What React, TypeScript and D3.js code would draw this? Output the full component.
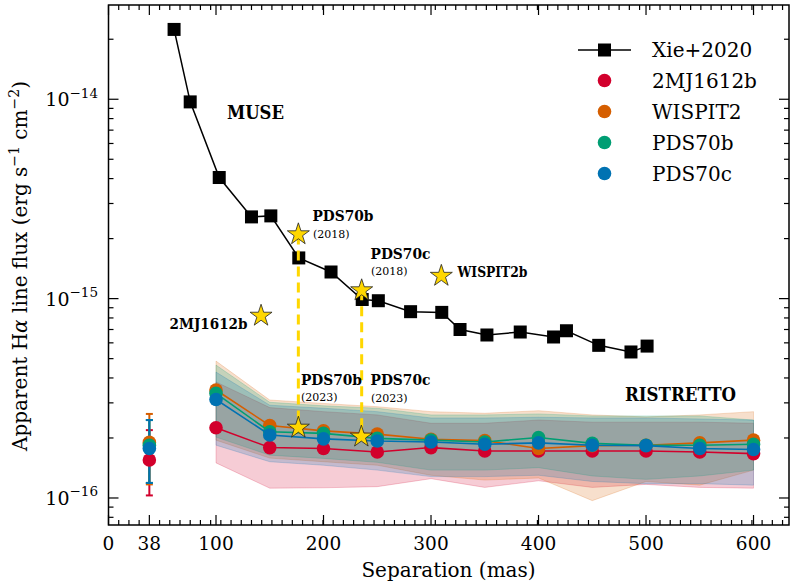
import * as d3 from 'd3';

// Xie+2020 MUSE contrast curve (separation in mas, flux in erg/s/cm^2)
const xieSep = [61, 76, 103, 133, 151, 177, 207, 236, 251, 281, 310, 327, 352, 383, 414, 426, 456, 486, 501];
const xieFlux = [2.24e-14, 9.7e-15, 4.05e-15, 2.57e-15, 2.6e-15, 1.6e-15, 1.36e-15, 9.9e-16, 9.76e-16, 8.6e-16,
  8.53e-16, 7.0e-16, 6.57e-16, 6.8e-16, 6.42e-16, 6.9e-16, 5.83e-16, 5.4e-16, 5.78e-16];

// RISTRETTO predictions
const ristSep = [38, 100, 150, 200, 250, 300, 350, 400, 450, 500, 550, 600];
const seriesNames = ['2MJ1612b', 'WISPIT2', 'PDS70b', 'PDS70c'];
const seriesColors = ['#d2002c', '#d55e00', '#009e73', '#0072b2'];
const flux2MJ = [1.55e-16, 2.25e-16, 1.79e-16, 1.77e-16, 1.7e-16, 1.79e-16, 1.72e-16, 1.72e-16, 1.72e-16, 1.72e-16, 1.7e-16, 1.67e-16];
const fluxWISPIT2 = [1.9e-16, 3.48e-16, 2.31e-16, 2.17e-16, 2.09e-16, 1.97e-16, 1.94e-16, 1.77e-16, 1.83e-16, 1.84e-16, 1.89e-16, 1.95e-16];
const fluxPDS70b = [1.84e-16, 3.35e-16, 2.15e-16, 2.11e-16, 1.99e-16, 1.95e-16, 1.91e-16, 2.01e-16, 1.88e-16, 1.84e-16, 1.84e-16, 1.86e-16];
const fluxPDS70c = [1.77e-16, 3.12e-16, 2.07e-16, 1.98e-16, 1.93e-16, 1.91e-16, 1.86e-16, 1.89e-16, 1.84e-16, 1.83e-16, 1.77e-16, 1.75e-16];
const seriesFlux = [flux2MJ, fluxWISPIT2, fluxPDS70b, fluxPDS70c];

// error bars at 38 mas
const errLo = [1.03e-16, 1.17e-16, 1.19e-16, 1.19e-16];
const errHi = [2.19e-16, 2.64e-16, 2.46e-16, 2.46e-16];

// uncertainty bands, 100..600 mas
const bandSep = [100, 150, 200, 250, 300, 350, 400, 450, 500, 550, 600];
const upper2MJ = [3.82e-16, 2.84e-16, 2.71e-16, 2.61e-16, 2.37e-16, 2.37e-16, 2.46e-16, 2.4e-16, 2.4e-16, 2.4e-16, 2.37e-16];
const lower2MJ = [1.5e-16, 1.12e-16, 1.125e-16, 1.14e-16, 1.25e-16, 1.13e-16, 1.22e-16, 1.13e-16, 1.17e-16, 1.13e-16, 1.12e-16];
const upperWISPIT2 = [4.86e-16, 3.1e-16, 2.98e-16, 2.87e-16, 2.71e-16, 2.66e-16, 2.74e-16, 2.61e-16, 2.55e-16, 2.61e-16, 2.71e-16];
const lowerWISPIT2 = [1.95e-16, 1.585e-16, 1.52e-16, 1.46e-16, 1.3e-16, 1.23e-16, 1.26e-16, 9.7e-17, 1.21e-16, 1.16e-16, 1.38e-16];
const upperPDS70b = [4.64e-16, 3.02e-16, 2.9e-16, 2.82e-16, 2.61e-16, 2.61e-16, 2.64e-16, 2.58e-16, 2.58e-16, 2.58e-16, 2.46e-16];
const lowerPDS70b = [2.02e-16, 1.64e-16, 1.58e-16, 1.51e-16, 1.38e-16, 1.38e-16, 1.42e-16, 1.29e-16, 1.24e-16, 1.29e-16, 1.38e-16];
const upperPDS70c = [4.28e-16, 2.92e-16, 2.82e-16, 2.71e-16, 2.52e-16, 2.52e-16, 2.54e-16, 2.52e-16, 2.52e-16, 2.49e-16, 2.46e-16];
const lowerPDS70c = [1.84e-16, 1.52e-16, 1.46e-16, 1.38e-16, 1.28e-16, 1.28e-16, 1.3e-16, 1.21e-16, 1.18e-16, 1.18e-16, 1.16e-16];
const bandUpper = [upper2MJ, upperWISPIT2, upperPDS70b, upperPDS70c];
const bandLower = [lower2MJ, lowerWISPIT2, lowerPDS70b, lowerPDS70c];

// known detections (stars)
const starSep = [176.6, 235.5, 309.6, 141.9, 176.6, 235.2];
const starFlux = [2.1e-15, 1.1e-15, 1.3e-15, 8.2e-16, 2.25e-16, 2.03e-16];
const starName = ['PDS70b', 'PDS70c', 'WISPIT2b', '2MJ1612b', 'PDS70b', 'PDS70c'];
const starYear = ['(2018)', '(2018)', '', '', '(2023)', '(2023)'];

const xMajor = [0, 38, 100, 200, 300, 400, 500, 600];
const yMajor = [1e-16, 1e-15, 1e-14];
const yExp = ['−16', '−15', '−14'];

const W = 790;
const H = 588;
const L = 108.5, R = 789, T = 5, B = 525;
const font = "'DejaVu Serif', 'Liberation Serif', serif";

export default function App() {
  const x = d3.scaleLinear().domain([0, 633]).range([L, R]);
  const y = d3.scaleLog().domain([7.32e-17, 2.97e-14]).range([B, T]);

  const xMinor = d3.range(9.5, 633, 9.5).filter(v => Math.abs(v - 38) > 0.01);
  const yMinor: number[] = [];
  [-17, -16, -15, -14].forEach(e => {
    for (let m = 2; m <= 9; m++) {
      const v = m * Math.pow(10, e);
      if (v > 7.32e-17 && v < 2.97e-14) yMinor.push(v);
    }
  });

  const line = d3.line<[number, number]>().x(d => x(d[0])).y(d => y(d[1]));

  const bandPath = (k: number) => {
    const a = d3.area<number>()
      .x(i => x(bandSep[i]))
      .y0(i => y(bandLower[k][i]))
      .y1(i => y(bandUpper[k][i]));
    return a(d3.range(bandSep.length)) || '';
  };

  const starSym = d3.symbol(d3.symbolStar, 150)();
  const sq = 13;

  return (
    <div style={{ position: 'absolute', left: 0, top: 0 }}>
      <svg width={W} height={H} style={{ display: 'block', fontFamily: font }}>
        <rect width={W} height={H} fill="white" />

        {/* bands */}
        {seriesColors.map((c, k) => (
          <path key={'b' + k} d={bandPath(k)} fill={c} fillOpacity={0.2} stroke={c} strokeOpacity={0.2} strokeWidth={1} />
        ))}

        {/* error bars at 38 mas */}
        {seriesColors.map((c, k) => (
          <g key={'e' + k} stroke={c} strokeWidth={2}>
            <line x1={x(38)} x2={x(38)} y1={y(errLo[k])} y2={y(errHi[k])} />
            <line x1={x(38) - 3.5} x2={x(38) + 3.5} y1={y(errLo[k])} y2={y(errLo[k])} />
            <line x1={x(38) - 3.5} x2={x(38) + 3.5} y1={y(errHi[k])} y2={y(errHi[k])} />
          </g>
        ))}

        {/* RISTRETTO series */}
        {seriesColors.map((c, k) => {
          const pts = ristSep.map((s, i) => [s, seriesFlux[k][i]] as [number, number]);
          return (
            <g key={'s' + k}>
              <path d={line(pts.slice(1)) || ''} fill="none" stroke={c} strokeWidth={1.6} />
              {pts.map((p, i) => (
                <circle key={i} cx={x(p[0])} cy={y(p[1])} r={6.8} fill={c} />
              ))}
            </g>
          );
        })}

        {/* Xie+2020 */}
        <path d={line(xieSep.map((s, i) => [s, xieFlux[i]] as [number, number])) || ''} fill="none" stroke="black" strokeWidth={1.5} />
        {xieSep.map((s, i) => (
          <rect key={'x' + i} x={x(s) - sq / 2} y={y(xieFlux[i]) - sq / 2} width={sq} height={sq} fill="black" />
        ))}

        {/* dashed links between 2018 and 2023 */}
        {[0, 1].map(i => (
          <line key={'d' + i} x1={x(starSep[i])} x2={x(starSep[i])} y1={y(starFlux[i])} y2={y(starFlux[i + 4])}
            stroke="#ffd700" strokeWidth={3} strokeDasharray="10,6" />
        ))}

        {/* stars */}
        {starSep.map((s, i) => (
          <path key={'st' + i} d={starSym || ''} transform={`translate(${x(s)},${y(starFlux[i])})`}
            fill="#ffd700" stroke="#222" strokeWidth={0.8} />
        ))}

        {/* star labels */}
        <g fontWeight="bold" fontSize={14}>
          <text x={312.5} y={221} textLength={61} lengthAdjust="spacingAndGlyphs">{starName[0]}</text>
          <text x={313} y={237.5} fontSize={11} fontWeight="normal">{starYear[0]}</text>
          <text x={370.5} y={259} textLength={60} lengthAdjust="spacingAndGlyphs">{starName[1]}</text>
          <text x={371} y={275} fontSize={11} fontWeight="normal">{starYear[1]}</text>
          <text x={457.5} y={277} textLength={70} lengthAdjust="spacingAndGlyphs">{starName[2]}</text>
          <text x={169.5} y={329} textLength={78} lengthAdjust="spacingAndGlyphs">{starName[3]}</text>
          <text x={301} y={384.5} textLength={61} lengthAdjust="spacingAndGlyphs">{starName[4]}</text>
          <text x={301} y={401} fontSize={11} fontWeight="normal">{starYear[4]}</text>
          <text x={370.5} y={385} textLength={60} lengthAdjust="spacingAndGlyphs">{starName[5]}</text>
          <text x={371} y={401.5} fontSize={11} fontWeight="normal">{starYear[5]}</text>
        </g>

        <text x={227} y={119} fontWeight="bold" fontSize={19} textLength={57} lengthAdjust="spacingAndGlyphs">MUSE</text>
        <text x={625} y={401} fontWeight="bold" fontSize={19} textLength={111} lengthAdjust="spacingAndGlyphs">RISTRETTO</text>

        {/* legend */}
        <g fontSize={20}>
          <line x1={578} x2={631} y1={50} y2={50} stroke="black" strokeWidth={1.5} />
          <rect x={604.5 - sq / 2} y={50 - sq / 2} width={sq} height={sq} fill="black" />
          <text x={652} y={57}>Xie+2020</text>
          {seriesNames.map((n, k) => (
            <g key={'l' + k}>
              <circle cx={604.5} cy={80.5 + k * 31} r={6.8} fill={seriesColors[k]} />
              <text x={652} y={87.5 + k * 31}>{n}</text>
            </g>
          ))}
        </g>

        {/* frame */}
        <rect x={L} y={T} width={R - L} height={B - T} fill="none" stroke="black" strokeWidth={1.5} />

        {/* ticks */}
        <g stroke="black" strokeWidth={1.2}>
          {xMajor.map(v => (
            <g key={'xm' + v}>
              <line x1={x(v)} x2={x(v)} y1={B} y2={B - 10} />
              <line x1={x(v)} x2={x(v)} y1={T} y2={T + 10} />
            </g>
          ))}
          {xMinor.map(v => (
            <g key={'xn' + v}>
              <line x1={x(v)} x2={x(v)} y1={B} y2={B - 5} />
              <line x1={x(v)} x2={x(v)} y1={T} y2={T + 5} />
            </g>
          ))}
          {yMajor.map(v => (
            <g key={'ym' + v}>
              <line x1={L} x2={L + 10} y1={y(v)} y2={y(v)} />
              <line x1={R} x2={R - 10} y1={y(v)} y2={y(v)} />
            </g>
          ))}
          {yMinor.map(v => (
            <g key={'yn' + v}>
              <line x1={L} x2={L + 5} y1={y(v)} y2={y(v)} />
              <line x1={R} x2={R - 5} y1={y(v)} y2={y(v)} />
            </g>
          ))}
        </g>

        {/* tick labels */}
        <g fontSize={18.5} textAnchor="middle">
          {xMajor.map(v => (
            <text key={'xl' + v} x={x(v)} y={550}>{v}</text>
          ))}
        </g>
        <g fontSize={19} textAnchor="end">
          {yMajor.map((v, i) => (
            <text key={'yl' + v} x={98} y={y(v) + 7}>
              10<tspan fontSize={13.5} dy={-8.5}>{yExp[i]}</tspan>
            </text>
          ))}
        </g>

        {/* axis titles */}
        <text x={448.5} y={577} fontSize={20} textAnchor="middle">Separation (mas)</text>
        <text transform="translate(26.5,266) rotate(-90)" fontSize={20} textAnchor="middle">
          Apparent H<tspan fontStyle="italic">α</tspan> line flux (erg s<tspan fontSize={14} dy={-8}>−1</tspan>
          <tspan dy={8}> cm</tspan><tspan fontSize={14} dy={-8}>−2</tspan><tspan dy={8}>)</tspan>
        </text>
      </svg>
    </div>
  );
}
